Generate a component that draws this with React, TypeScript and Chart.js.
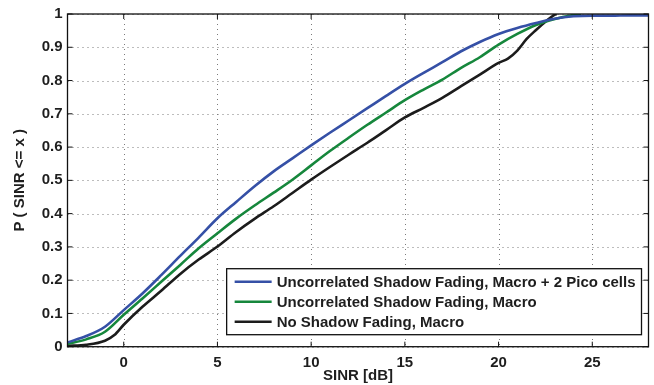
import React, { useEffect, useRef } from "react";
import { Chart, registerables } from "chart.js";

Chart.register(...registerables);

const xTicks = [0, 5, 10, 15, 20, 25];
const yTicks = [0, 0.1, 0.2, 0.3, 0.4, 0.5, 0.6, 0.7, 0.8, 0.9, 1];

const seriesLabels = [
  "Uncorrelated Shadow Fading, Macro + 2 Pico cells",
  "Uncorrelated Shadow Fading, Macro",
  "No Shadow Fading, Macro",
];

const blueSinr = [-3, -2, -1, 0, 1, 2, 3, 4, 5, 6, 7, 8, 9, 10, 11, 12, 13, 14, 15, 16, 17, 18, 19, 20, 21, 22, 23, 24, 25, 26, 27, 28];
const blueCdf = [0.013, 0.032, 0.06, 0.11, 0.16, 0.215, 0.272, 0.328, 0.386, 0.435, 0.483, 0.527, 0.566, 0.605, 0.643, 0.68, 0.717, 0.754, 0.79, 0.823, 0.855, 0.888, 0.916, 0.94, 0.958, 0.973, 0.986, 0.993, 0.995, 0.995, 0.996, 0.996];

const greenSinr = [-3, -2, -1, 0, 1, 2, 3, 4, 5, 6, 7, 8, 9, 10, 11, 12, 13, 14, 15, 16, 17, 18, 19, 20, 21, 22, 23, 24, 24.4];
const greenCdf = [0.008, 0.022, 0.045, 0.096, 0.145, 0.195, 0.245, 0.296, 0.341, 0.385, 0.425, 0.463, 0.502, 0.545, 0.588, 0.628, 0.667, 0.704, 0.741, 0.773, 0.803, 0.838, 0.87, 0.908, 0.94, 0.967, 0.985, 0.997, 1.0];

const blackSinr = [-3, -2, -1, -0.5, 0, 1, 2, 3, 4, 5, 6, 7, 8, 9, 10, 11, 12, 13, 14, 15, 16, 17, 18, 19, 20, 20.5, 21, 21.5, 22, 22.5, 23, 23.1];
const blackCdf = [0.003, 0.006, 0.018, 0.035, 0.066, 0.12, 0.168, 0.218, 0.262, 0.301, 0.345, 0.385, 0.422, 0.462, 0.502, 0.54, 0.577, 0.613, 0.651, 0.689, 0.718, 0.748, 0.783, 0.818, 0.853, 0.866, 0.89, 0.925, 0.952, 0.977, 0.998, 1.0];

const colors = ["#3550a6", "#16873c", "#1c1c1c"];

const FONT = "'Liberation Sans', Arial, Helvetica, sans-serif";
const TEXT = "#1e1e1e";

function toPoints(xs: number[], ys: number[]) {
  return xs.map((x, i) => ({ x, y: ys[i] }));
}

const dottedGrid = {
  id: "dottedGrid",
  beforeDatasetsDraw(chart: any) {
    const { ctx, chartArea, scales } = chart;
    const { left, right, top, bottom } = chartArea;
    ctx.save();
    ctx.strokeStyle = "#7a7a7a";
    ctx.lineWidth = 1;
    ctx.setLineDash([1, 4]);
    ctx.beginPath();
    xTicks.forEach((v) => {
      const px = Math.round(scales.x.getPixelForValue(v)) + 0.5;
      ctx.moveTo(px, top);
      ctx.lineTo(px, bottom);
    });
    yTicks.forEach((v) => {
      const py = Math.round(scales.y.getPixelForValue(v)) + 0.5;
      ctx.moveTo(left, py);
      ctx.lineTo(right, py);
    });
    ctx.stroke();
    ctx.restore();
  },
};

const frameAndLegend = {
  id: "frameAndLegend",
  afterDatasetsDraw(chart: any) {
    const { ctx, chartArea, scales } = chart;
    const { left, right, top, bottom } = chartArea;
    ctx.save();
    ctx.strokeStyle = "#111";
    ctx.lineWidth = 1.3;
    ctx.setLineDash([]);
    ctx.strokeRect(left, top, right - left, bottom - top);
    const tl = 5;
    ctx.lineWidth = 1;
    ctx.beginPath();
    xTicks.forEach((v) => {
      const px = scales.x.getPixelForValue(v);
      ctx.moveTo(px, bottom);
      ctx.lineTo(px, bottom - tl);
      ctx.moveTo(px, top);
      ctx.lineTo(px, top + tl);
    });
    yTicks.forEach((v) => {
      const py = scales.y.getPixelForValue(v);
      ctx.moveTo(left, py);
      ctx.lineTo(left + tl, py);
      ctx.moveTo(right, py);
      ctx.lineTo(right - tl, py);
    });
    ctx.stroke();

    ctx.font = `bold 15px ${FONT}`;
    const textW = Math.max(...seriesLabels.map((s) => ctx.measureText(s).width));
    const lineLen = 37;
    const padL = 8;
    const gap = 5;
    const padR = 6;
    const rowH = 20;
    const boxW = padL + lineLen + gap + textW + padR;
    const boxH = rowH * seriesLabels.length + 6;
    const bx = right - 7 - boxW;
    const by = bottom - 12 - boxH;
    ctx.fillStyle = "#ffffff";
    ctx.fillRect(bx, by, boxW, boxH);
    ctx.strokeStyle = "#111";
    ctx.lineWidth = 1.3;
    ctx.strokeRect(bx, by, boxW, boxH);
    seriesLabels.forEach((label, i) => {
      const cy = by + 3 + rowH * i + rowH / 2;
      ctx.strokeStyle = colors[i];
      ctx.lineWidth = 2.5;
      ctx.beginPath();
      ctx.moveTo(bx + padL, cy);
      ctx.lineTo(bx + padL + lineLen, cy);
      ctx.stroke();
      ctx.fillStyle = TEXT;
      ctx.textBaseline = "middle";
      ctx.textAlign = "left";
      ctx.fillText(label, bx + padL + lineLen + gap, cy + 1);
    });
    ctx.restore();
  },
};

export default function App() {
  const ref = useRef<HTMLCanvasElement | null>(null);

  useEffect(() => {
    document.body.style.margin = "0";
    const canvas = ref.current;
    if (!canvas) return;
    const chart = new Chart(canvas, {
      type: "line",
      data: {
        datasets: [
          { label: seriesLabels[0], data: toPoints(blueSinr, blueCdf), borderColor: colors[0] },
          { label: seriesLabels[1], data: toPoints(greenSinr, greenCdf), borderColor: colors[1] },
          { label: seriesLabels[2], data: toPoints(blackSinr, blackCdf), borderColor: colors[2] },
        ].map((d) => ({
          ...d,
          borderWidth: 2.6,
          pointRadius: 0,
          fill: false,
          cubicInterpolationMode: "monotone" as const,
        })),
      },
      options: {
        responsive: false,
        animation: false,
        maintainAspectRatio: false,
        layout: { padding: { left: 0, right: 5.5, top: 13.5, bottom: 0 } },
        plugins: {
          legend: { display: false },
          tooltip: { enabled: false },
          title: { display: false },
        },
        scales: {
          x: {
            type: "linear",
            min: -3,
            max: 28,
            afterBuildTicks: (s: any) => {
              s.ticks = xTicks.map((v) => ({ value: v }));
            },
            afterFit: (s: any) => {
              s.height = 385 - 346.7;
            },
            grid: { display: false, drawTicks: false },
            border: { display: false },
            ticks: {
              color: TEXT,
              font: { family: FONT, size: 15, weight: "bold" },
              padding: 7,
              maxRotation: 0,
              callback: (v: any) => String(v),
            },
            title: {
              display: true,
              text: "SINR [dB]",
              color: TEXT,
              font: { family: FONT, size: 15, weight: "bold", lineHeight: 1.2 },
              padding: { top: 0, bottom: 0 },
            },
          },
          y: {
            type: "linear",
            min: 0,
            max: 1,
            afterBuildTicks: (s: any) => {
              s.ticks = yTicks.map((v) => ({ value: v }));
            },
            afterFit: (s: any) => {
              s.width = 67.5;
            },
            grid: { display: false, drawTicks: false },
            border: { display: false },
            ticks: {
              color: TEXT,
              font: { family: FONT, size: 15, weight: "bold" },
              padding: 5,
              callback: (v: any) => String(Math.round(v * 10) / 10),
            },
            title: {
              display: true,
              text: "P ( SINR <= x )",
              color: TEXT,
              font: { family: FONT, size: 15, weight: "bold", lineHeight: 1.2 },
              padding: { top: 11, bottom: 0 },
            },
          },
        },
      },
      plugins: [dottedGrid, frameAndLegend],
    });
    return () => chart.destroy();
  }, []);

  return (
    <div style={{ position: "fixed", left: 0, top: 0, width: 654, height: 385 }}>
      <canvas ref={ref} width={654} height={385} style={{ width: 654, height: 385, display: "block" }} />
    </div>
  );
}
